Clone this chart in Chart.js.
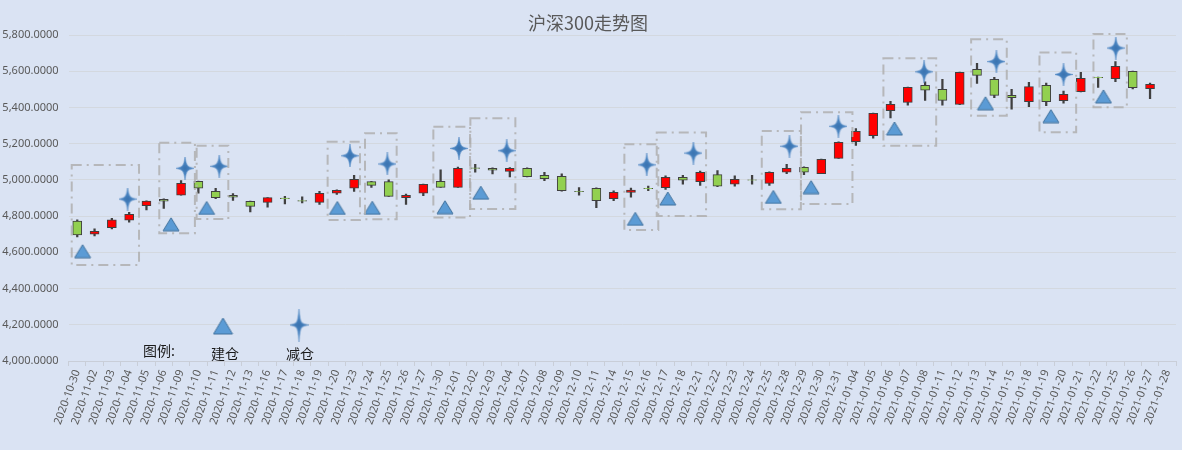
<!DOCTYPE html>
<html>
<head>
<meta charset="utf-8">
<script src="https://cdn.jsdelivr.net/npm/chart.js@4.4.1/dist/chart.umd.min.js"></script>
<style>
  html, body { margin: 0; padding: 0; background: #dae3f3; }
  #wrap { width: 1182px; height: 450px; }
</style>
</head>
<body>
<div id="wrap"><canvas id="chartKline"></canvas></div>
<script>
// 日期
const dates = [
    '2020-10-30','2020-11-02','2020-11-03','2020-11-04','2020-11-05','2020-11-06','2020-11-09','2020-11-10',
    '2020-11-11','2020-11-12','2020-11-13','2020-11-16','2020-11-17','2020-11-18','2020-11-19','2020-11-20',
    '2020-11-23','2020-11-24','2020-11-25','2020-11-26','2020-11-27','2020-11-30','2020-12-01','2020-12-02',
    '2020-12-03','2020-12-04','2020-12-07','2020-12-08','2020-12-09','2020-12-10','2020-12-11','2020-12-14',
    '2020-12-15','2020-12-16','2020-12-17','2020-12-18','2020-12-21','2020-12-22','2020-12-23','2020-12-24',
    '2020-12-25','2020-12-28','2020-12-29','2020-12-30','2020-12-31','2021-01-04','2021-01-05','2021-01-06',
    '2021-01-07','2021-01-08','2021-01-11','2021-01-12','2021-01-13','2021-01-14','2021-01-15','2021-01-18',
    '2021-01-19','2021-01-20','2021-01-21','2021-01-22','2021-01-25','2021-01-26','2021-01-27','2021-01-28'
];

// 开盘 / 收盘 / 最高 / 最低
const opens = [
    4773,4700,4736,4777,4857,4893,4915,4992,4937,4915,4882,4876,4899,4886,4876,4926,
    4954,4990,4990,4902,4926,4992,4959,5066,5064,5047,5064,5025,5020,4937,4954,4896,
    4931,4953,4957,5014,4990,5029,4976,5000,4981,5042,5070,5034,5119,5211,5244,5382,
    5428,5522,5500,5417,5611,5555,5467,5432,5522,5437,5487,5566,5559,5600,5503,null
];
const closes = [
    4696,4716,4779,4810,4883,4882,4981,4954,4902,4904,4854,4902,4896,4883,4926,4943,
    5003,4970,4909,4915,4976,4959,5064,5064,5053,5064,5018,5007,4940,4935,4885,4931,
    4944,4951,5014,4998,5042,4965,5003,4998,5042,5064,5042,5114,5208,5268,5368,5417,
    5511,5495,5439,5594,5577,5467,5454,5515,5432,5473,5561,5564,5627,5509,5528,null
];
const highs = [
    4779,4730,4788,4821,4885,4896,4996,4994,4954,4924,4883,4903,4909,4907,4937,4945,
    5025,4992,5001,4922,4977,5055,5071,5086,5066,5068,5066,5042,5033,4957,4956,4940,
    4955,4966,5022,5025,5049,5051,5023,5025,5044,5086,5072,5115,5210,5283,5369,5434,
    5512,5542,5555,5595,5644,5566,5500,5539,5535,5491,5594,5568,5653,5601,5535,null
];
const lows = [
    4685,4690,4729,4766,4834,4843,4915,4926,4896,4887,4823,4849,4867,4873,4865,4920,
    4937,4959,4909,4865,4913,4958,4958,5042,5033,5016,5016,4996,4938,4915,4846,4885,
    4904,4940,4948,4977,4970,4962,4965,4977,4970,5034,5029,5034,5118,5191,5230,5342,
    5412,5439,5412,5416,5533,5454,5390,5404,5410,5423,5486,5511,5542,5502,5448,null
];

// 建仓标记 (位置以交易日序号计)
const buyPos = [0.31,5.42,7.48,15.03,17.05,21.25,23.32,32.25,34.13,40.23,42.41,47.23,52.49,56.27,59.31];
const buyVal = [4606,4755,4845,4845,4846,4849,4929,4785,4897,4906,4960,5284,5423,5352,5461];

// 减仓标记
const sellPos = [2.91,6.23,8.21,15.76,17.92,22.06,24.82,32.91,35.61,41.16,43.99,48.94,53.12,57.00,60.02];
const sellVal = [4894,5064,5075,5133,5088,5174,5161,5083,5148,5186,5296,5597,5653,5582,5728];

// 虚线框 (左/右 序号, 上/下 点位)
const boxFrom = [-0.32,4.74,6.90,14.47,16.63,20.58,22.72,31.62,33.49,39.56,41.83,46.59,51.66,55.61,58.73];
const boxTo   = [3.57,6.80,8.73,16.34,18.46,22.70,25.32,33.58,36.34,41.82,44.80,49.64,53.72,57.73,60.66];
const boxTop  = [5082,5205,5189,5211,5257,5294,5340,5197,5261,5270,5373,5671,5776,5704,5806];
const boxBot  = [4530,4705,4784,4779,4782,4793,4839,4723,4801,4838,4867,5189,5354,5263,5401];

const yTicks = [4000,4200,4400,4600,4800,5000,5200,5400,5600,5800];

const RED = '#ff0000';
const GREEN = '#92d050';
const EDGE = '#404040';

function makeTriangle(w, h) {
    const c = document.createElement('canvas');
    c.width = w + 2; c.height = h + 2;
    const g = c.getContext('2d');
    g.beginPath();
    g.moveTo(c.width / 2, 1);
    g.lineTo(w + 1, h + 1);
    g.lineTo(1, h + 1);
    g.closePath();
    g.fillStyle = '#5b9bd5';
    g.fill();
    g.lineWidth = 1;
    g.strokeStyle = '#41719c';
    g.stroke();
    return c;
}

function makeStar(w, h) {
    // 四角星
    const c = document.createElement('canvas');
    c.width = w; c.height = h;
    const g = c.getContext('2d');
    const cx = w / 2, cy = h / 2, d = 2.6;
    g.beginPath();
    g.moveTo(cx, 0);
    g.quadraticCurveTo(cx + 0.9, cy - d - 1.5, cx + d, cy - d);
    g.quadraticCurveTo(cx + d + 1.5, cy - 0.9, w, cy);
    g.quadraticCurveTo(cx + d + 1.5, cy + 0.9, cx + d, cy + d);
    g.quadraticCurveTo(cx + 0.9, cy + d + 1.5, cx, h);
    g.quadraticCurveTo(cx - 0.9, cy + d + 1.5, cx - d, cy + d);
    g.quadraticCurveTo(cx - d - 1.5, cy + 0.9, 0, cy);
    g.quadraticCurveTo(cx - d - 1.5, cy - 0.9, cx - d, cy - d);
    g.quadraticCurveTo(cx - 0.9, cy - d - 1.5, cx, 0);
    g.closePath();
    const grad = g.createRadialGradient(cx, cy, 0, cx, cy, h / 2);
    grad.addColorStop(0, '#3a73b0');
    grad.addColorStop(1, '#5a97d3');
    g.fillStyle = grad;
    g.fill();
    g.lineWidth = 0.5;
    g.strokeStyle = '#4a82bf';
    g.stroke();
    return c;
}

const triImg = makeTriangle(16, 13);
const starImg = makeStar(18, 23);
const triLegend = makeTriangle(19, 16);
const starLegend = makeStar(19, 33);

// 背景 + 虚线框 + 图例
const decorPlugin = {
    id: 'decor',
    beforeDraw(chart) {
        const ctx = chart.ctx;
        ctx.save();
        ctx.fillStyle = '#dae3f3';
        ctx.fillRect(0, 0, chart.width, chart.height);
        ctx.restore();
    },
    afterDatasetsDraw(chart) {
        const ctx = chart.ctx;
        const xs = chart.scales.xm, ys = chart.scales.y;
        ctx.save();
        ctx.setLineDash([10, 5, 2, 5]);
        ctx.lineWidth = 2;
        ctx.strokeStyle = 'rgba(175,175,175,0.85)';
        for (let i = 0; i < boxFrom.length; i++) {
            const x0 = xs.getPixelForValue(boxFrom[i]);
            const x1 = xs.getPixelForValue(boxTo[i]);
            const y0 = ys.getPixelForValue(boxTop[i]);
            const y1 = ys.getPixelForValue(boxBot[i]);
            ctx.strokeRect(x0, y0, x1 - x0, y1 - y0);
        }
        ctx.restore();

        // 图例
        ctx.save();
        ctx.drawImage(triLegend, 223 - triLegend.width / 2, 326 - triLegend.height / 2);
        ctx.drawImage(starLegend, 299 - starLegend.width / 2, 325 - starLegend.height / 2);
        ctx.fillStyle = '#1a1a1a';
        ctx.font = '14px "Noto Sans CJK SC"';
        ctx.textBaseline = 'middle';
        ctx.textAlign = 'left';
        ctx.fillText('图例:', 143, 351);
        ctx.textAlign = 'center';
        ctx.fillText('建仓', 225, 354);
        ctx.fillText('减仓', 300, 354);
        ctx.restore();
    }
};

const ctx = document.getElementById('chartKline');
new Chart(ctx, {
    type: 'bar',
    data: {
        labels: dates,
        datasets: [
            {
                // 实体
                label: 'body',
                data: opens.map((o, i) => o === null ? null : [o, closes[i]]),
                backgroundColor: opens.map((o, i) => closes[i] >= o ? RED : GREEN),
                borderColor: EDGE,
                borderWidth: 1,
                borderSkipped: false,
                barThickness: 9,
                grouped: false,
                order: 2
            },
            {
                // 影线
                label: 'wick',
                data: lows.map((l, i) => l === null ? null : [l, highs[i]]),
                backgroundColor: EDGE,
                borderWidth: 0,
                barThickness: 1.6,
                grouped: false,
                order: 3
            },
            {
                type: 'scatter',
                label: '建仓',
                xAxisID: 'xm',
                data: buyPos.map((p, i) => ({ x: p, y: buyVal[i] })),
                pointStyle: triImg,
                order: 1
            },
            {
                type: 'scatter',
                label: '减仓',
                xAxisID: 'xm',
                data: sellPos.map((p, i) => ({ x: p, y: sellVal[i] })),
                pointStyle: starImg,
                order: 0
            }
        ]
    },
    options: {
        responsive: true,
        maintainAspectRatio: false,
        animation: false,
        events: [],
        layout: { padding: { left: 0, right: 6, top: 0, bottom: 0 } },
        scales: {
            x: {
                offset: true,
                grid: {
                    offset: true,
                    drawOnChartArea: false,
                    tickLength: 5,
                    color: '#c9ced8'
                },
                border: { color: '#c9ced8' },
                ticks: {
                    autoSkip: false,
                    minRotation: 70,
                    maxRotation: 70,
                    padding: 2,
                    color: '#595959',
                    font: { family: 'Noto Sans', size: 11 }
                },
                afterFit: function(axis) { axis.height = 89; }
            },
            xm: {
                type: 'linear',
                display: false,
                min: -0.5,
                max: 63.5,
                offset: false
            },
            y: {
                min: 4000,
                max: 5800,
                afterBuildTicks: function(axis) {
                    axis.ticks = yTicks.map(v => ({ value: v }));
                },
                grid: { color: '#d3d8df', drawTicks: false },
                border: { display: false },
                ticks: {
                    padding: 10,
                    color: '#595959',
                    font: { family: 'Noto Sans', size: 11 },
                    callback: function(v) {
                        return v.toLocaleString('en-US', { minimumFractionDigits: 4, maximumFractionDigits: 4 });
                    }
                },
                afterFit: function(axis) { axis.width = 68.6; }
            }
        },
        plugins: {
            legend: { display: false },
            tooltip: { enabled: false },
            title: {
                display: true,
                text: '沪深300走势图',
                color: '#595959',
                font: { family: 'Noto Sans CJK SC', size: 18, weight: 'normal' },
                padding: { top: 12, bottom: 1.4 }
            }
        }
    },
    plugins: [decorPlugin]
});
</script>
</body>
</html>
